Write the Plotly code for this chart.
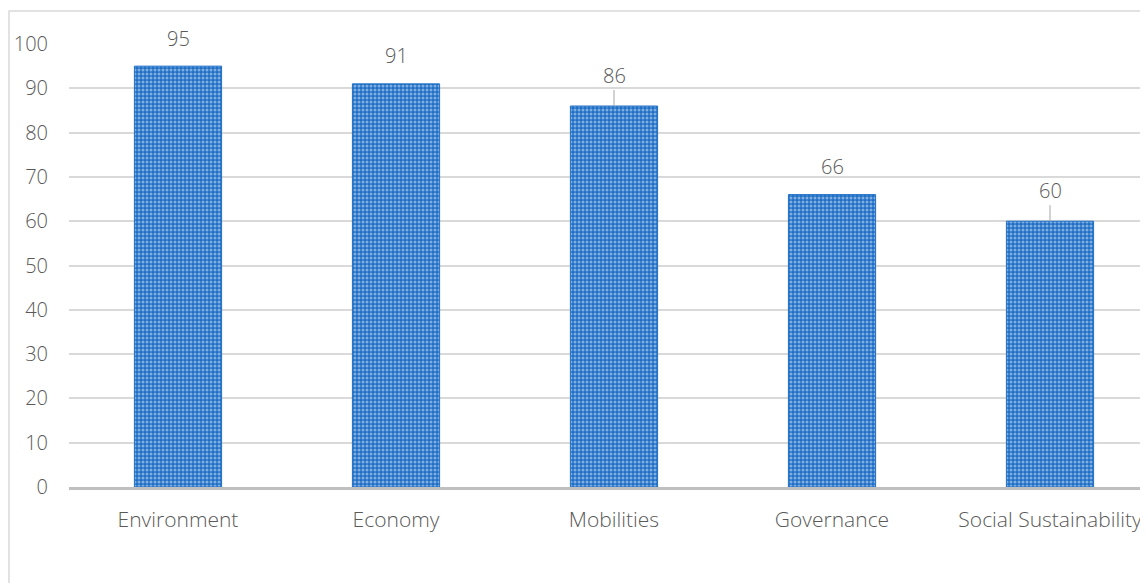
import plotly.graph_objects as go

categories = ["Environment", "Economy", "Mobilities", "Governance", "Social Sustainability"]
values = [95, 91, 86, 66, 60]
leader = [False, False, True, False, True]
y_ticks = [0, 10, 20, 30, 40, 50, 60, 70, 80, 90, 100]

OFF = 8  # page body margin
W, H = 1148 - OFF, 583 - OFF
L, T = 69 - OFF, 44 - OFF
B = H - (487 - OFF)
blue = "#1F6FC6"
gray_text = "#595959"
FONT = "Open Sans"
FS = 20

fig = go.Figure()
fig.add_trace(go.Bar(
    x=categories, y=values, width=0.4,
    marker=dict(color=blue, line=dict(color=blue, width=1),
                pattern=dict(shape=".", fgcolor="#E4EEFA", bgcolor=blue, size=4, solidity=0.45, fillmode="overlay")),
    hoverinfo="skip",
))

for c, v, ld in zip(categories, values, leader):
    if ld:
        fig.add_annotation(x=c, y=v, text=str(v), showarrow=True, arrowhead=0, arrowwidth=1,
                           arrowcolor="#A6A6A6", ax=0, ay=-31, standoff=0,
                           font=dict(size=FS, color=gray_text, family=FONT, weight=300))
    else:
        fig.add_annotation(x=c, y=v, text=str(v), showarrow=False, yshift=28,
                           font=dict(size=FS, color=gray_text, family=FONT, weight=300))

# chart border
pw = W - L
ph = H - T - B
fig.add_shape(type="rect", xref="paper", yref="paper",
              x0=(1 - L) / pw, x1=(W + 20 - L) / pw,
              y0=-(H + 20 - T - ph) / ph, y1=1 + (T - (11 - OFF)) / ph,
              line=dict(color="#D9D9D9", width=1.5), layer="below")

fig.update_layout(
    width=W, height=H,
    margin=dict(l=L, r=0, t=T, b=B),
    plot_bgcolor="white", paper_bgcolor="white",
    showlegend=False,
    font=dict(family=FONT, color=gray_text, size=FS, weight=300),
    xaxis=dict(range=[-0.5, -0.5 + pw / 218.0], showgrid=False, showline=True,
               linecolor="#BFBFBF", linewidth=3, ticks="", ticklabelstandoff=12,
               tickfont=dict(size=21, color=gray_text, family=FONT, weight=300)),
    yaxis=dict(range=[0, 100], tickvals=y_ticks, showgrid=True, gridcolor="#D9D9D9",
               gridwidth=1.5, zeroline=False, showline=False, ticks="",
               ticklabelstandoff=20, tickfont=dict(size=FS, color=gray_text, family=FONT, weight=300)),
)

fig.write_html("out.html")
